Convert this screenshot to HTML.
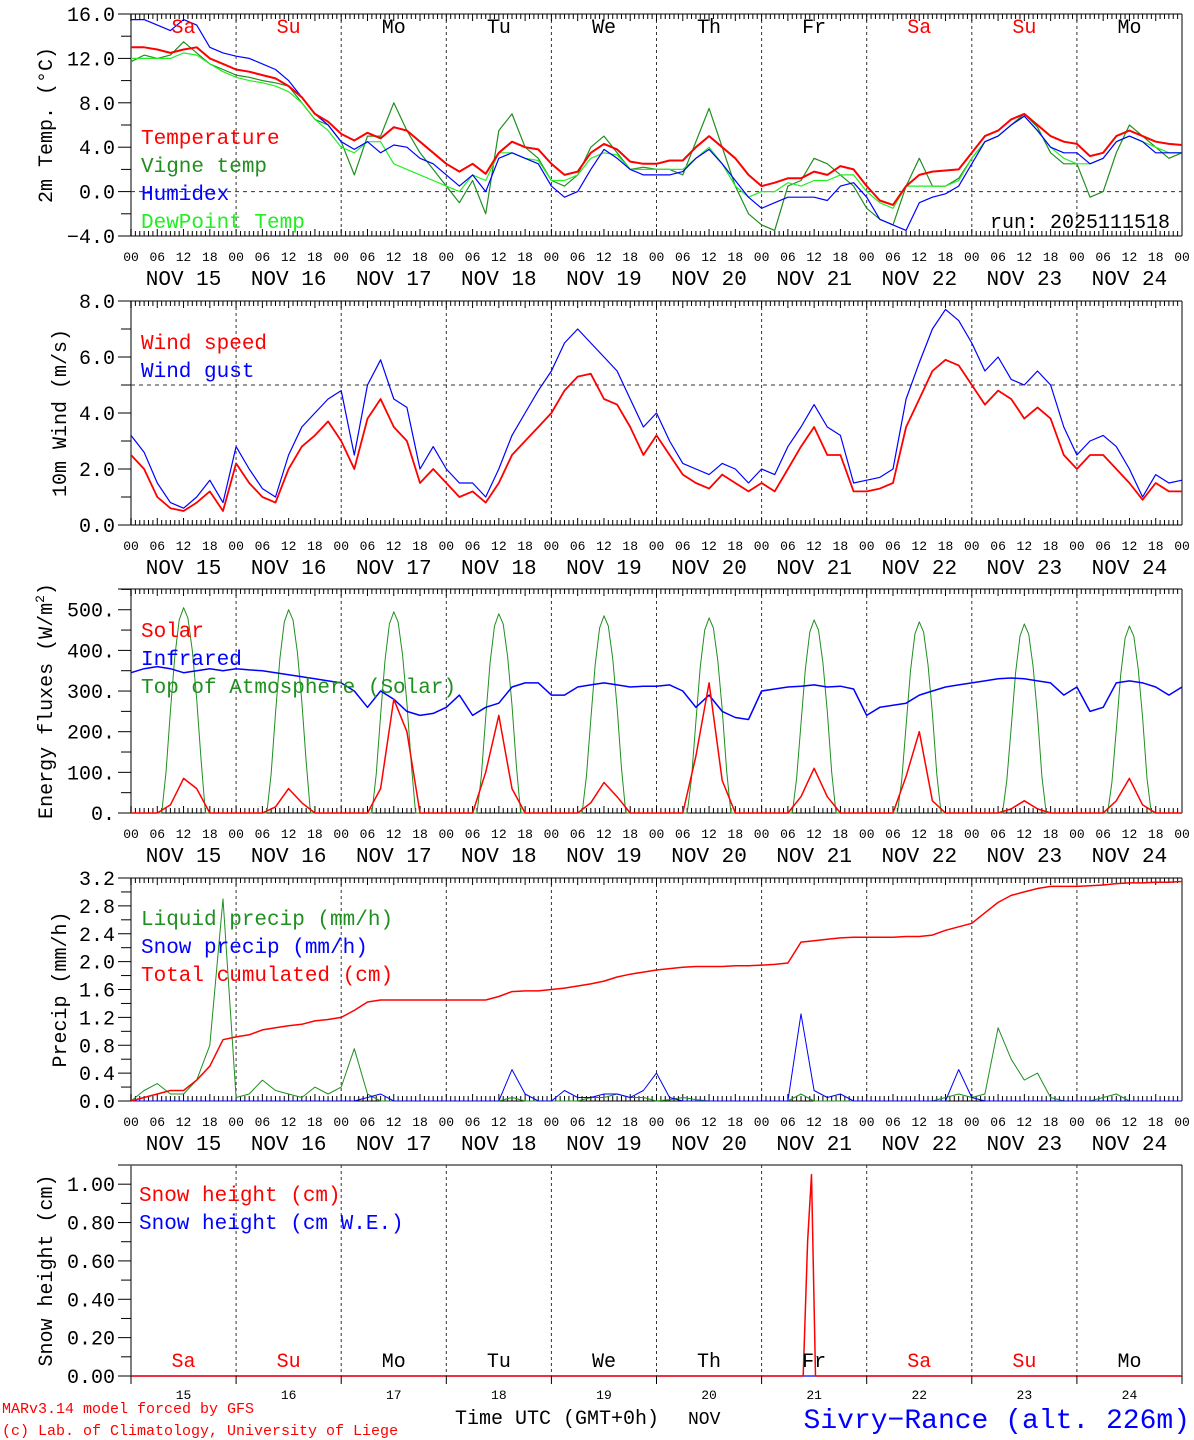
<!DOCTYPE html>
<html><head><meta charset="utf-8">
<style>
html,body{margin:0;padding:0;background:#fff;}
svg{display:block;font-family:"Liberation Mono",monospace;}
</style></head>
<body>
<svg id="chart" width="1194" height="1440" viewBox="0 0 1194 1440" xmlns="http://www.w3.org/2000/svg"></svg>
<script>
// ---------- data (3-hourly from NOV 15 00 UTC) ----------
const dayNames = ["Sa","Su","Mo","Tu","We","Th","Fr","Sa","Su","Mo"];
const dayNums = ["15","16","17","18","19","20","21","22","23","24"];
const hourLabels = ["00","06","12","18"];
const tempTicks = ["-4.0","0.0","4.0","8.0","12.0","16.0"];
const windTicks = ["0.0","2.0","4.0","6.0","8.0"];
const energyTicks = ["0.","100.","200.","300.","400.","500."];
const precipTicks = ["0.0","0.4","0.8","1.2","1.6","2.0","2.4","2.8","3.2"];
const snowTicks = ["0.00","0.20","0.40","0.60","0.80","1.00"];

const temperature = [13.0,13.0,12.8,12.5,12.8,13.0,12.0,11.5, 11.0,10.8,10.5,10.2,9.5,8.5,7.0,6.3, 5.2,4.6,5.3,4.8,5.8,5.5,4.5,3.5, 2.5,1.8,2.5,1.6,3.5,4.5,4.0,3.8, 2.5,1.5,1.8,3.5,4.3,3.8,2.7,2.5, 2.5,2.8,2.8,4.0,5.0,4.0,3.0,1.5, 0.5,0.8,1.2,1.2,1.8,1.5,2.3,2.0, 0.5,-0.8,-1.2,0.5,1.5,1.8,1.9,2.0, 3.5,5.0,5.5,6.5,7.0,6.0,5.0,4.5, 4.3,3.2,3.5,5.0,5.5,5.0,4.5,4.3,4.2];
const vigneTemp = [11.7,12.3,12.0,12.3,13.5,12.5,11.5,11.0, 10.5,10.3,10.0,9.8,9.5,8.0,6.5,6.0, 4.5,1.5,5.0,5.0,8.0,5.5,3.5,2.0, 0.5,-1.0,1.0,-2.0,5.5,7.0,4.0,3.0, 1.0,0.5,1.5,4.0,5.0,3.5,2.0,2.2, 2.0,2.0,1.5,4.5,7.5,4.0,0.5,-2.0, -3.0,-3.5,0.5,1.0,3.0,2.5,1.5,0.5, -1.5,-2.5,-3.0,0.5,3.0,0.5,0.5,1.2, 3.0,4.5,5.0,6.0,7.0,5.8,3.5,2.5, 2.5,-0.5,0.0,3.5,6.0,5.0,4.0,3.0,3.5];
const humidex = [15.5,15.5,15.0,14.5,15.5,15.0,13.0,12.5, 12.2,12.0,11.5,11.0,10.0,8.5,7.0,6.0, 4.5,3.8,4.5,3.5,4.2,4.0,3.0,2.5, 1.5,0.5,1.5,0.0,3.0,3.5,3.0,2.5, 0.5,-0.5,0.0,2.0,3.8,3.0,2.0,1.5, 1.5,1.5,1.8,3.0,3.8,2.5,1.0,-0.5, -1.5,-1.0,-0.5,-0.5,-0.5,-0.8,0.5,0.8, -0.5,-2.5,-3.0,-3.5,-1.0,-0.5,-0.2,0.5, 2.5,4.5,5.0,6.0,6.8,5.5,4.0,3.5, 3.5,2.5,3.0,4.5,5.0,4.5,3.5,3.5,3.5];
const dewPoint = [12.0,12.0,12.0,12.0,12.5,12.3,11.5,10.8, 10.3,10.0,9.8,9.5,9.0,8.0,6.5,5.5, 4.0,3.5,4.5,4.5,2.5,2.0,1.5,1.0, 0.5,0.0,1.5,1.0,3.5,3.5,3.0,2.8, 1.0,1.0,1.5,3.0,3.5,3.3,2.0,2.0, 2.0,2.0,2.0,3.0,4.0,2.5,0.5,-0.5, 0.0,0.0,0.8,0.5,1.0,1.0,1.5,1.5, 0.0,-1.0,-1.5,0.5,0.5,0.5,0.5,1.0, 3.0,4.5,5.0,6.0,6.8,5.5,4.0,3.0, 2.5,2.5,3.0,4.5,5.0,4.5,4.0,3.5,3.5];

const windSpeed = [2.5,2.0,1.0,0.6,0.5,0.8,1.2,0.5, 2.2,1.5,1.0,0.8,2.0,2.8,3.2,3.7, 3.0,2.0,3.8,4.5,3.5,3.0,1.5,2.0, 1.5,1.0,1.2,0.8,1.5,2.5,3.0,3.5, 4.0,4.8,5.3,5.4,4.5,4.3,3.5,2.5, 3.2,2.5,1.8,1.5,1.3,1.8,1.5,1.2, 1.5,1.2,2.0,2.8,3.5,2.5,2.5,1.2, 1.2,1.3,1.5,3.5,4.5,5.5,5.9,5.7, 5.0,4.3,4.8,4.5,3.8,4.2,3.8,2.5, 2.0,2.5,2.5,2.0,1.5,0.9,1.5,1.2,1.2];
const windGust = [3.2,2.6,1.5,0.8,0.6,1.0,1.6,0.8, 2.8,2.0,1.3,1.0,2.5,3.5,4.0,4.5, 4.8,2.5,5.0,5.9,4.5,4.2,2.0,2.8, 2.0,1.5,1.5,1.0,2.0,3.2,4.0,4.8, 5.5,6.5,7.0,6.5,6.0,5.5,4.5,3.5, 4.0,3.0,2.2,2.0,1.8,2.2,2.0,1.5, 2.0,1.8,2.8,3.5,4.3,3.5,3.2,1.5, 1.6,1.7,2.0,4.5,5.8,7.0,7.7,7.3, 6.5,5.5,6.0,5.2,5.0,5.5,5.0,3.5, 2.5,3.0,3.2,2.8,2.0,1.0,1.8,1.5,1.6];

const solar = [0,0,0,20,85,60,0,0, 0,0,0,15,60,25,0,0, 0,0,0,60,280,200,0,0, 0,0,0,100,240,60,0,0, 0,0,0,25,75,40,0,0, 0,0,0,140,320,80,0,0, 0,0,0,40,110,40,0,0, 0,0,0,90,200,30,0,0, 0,0,0,10,30,10,0,0, 0,0,0,30,85,20,0,0,0];
const infrared = [345,355,360,355,345,350,355,350, 355,352,350,345,340,335,330,325, 320,300,260,300,280,250,240,245, 260,290,240,260,270,310,320,320, 290,290,310,315,320,315,310,312, 312,315,300,260,290,250,235,230, 300,305,310,312,315,310,312,305, 240,260,265,270,290,300,310,315, 320,325,330,332,330,325,320,290, 310,250,260,320,325,320,310,290,310];
// top of atmosphere solar: hourly values 07..17 UTC for each day
const toaDaily = [
 [0,100,250,385,475,505,480,400,280,130,0],
 [0,95,245,380,470,500,475,395,275,125,0],
 [0,95,240,375,465,495,470,390,270,120,0],
 [0,90,235,370,460,490,465,385,265,115,0],
 [0,90,230,365,455,485,460,380,260,110,0],
 [0,85,225,360,450,480,455,375,255,105,0],
 [0,85,220,355,445,475,450,370,250,100,0],
 [0,80,215,350,440,470,445,365,245,95,0],
 [0,80,210,345,435,465,440,360,240,90,0],
 [0,75,205,340,430,460,435,355,235,85,0]];

const liquidPrecip = [0,0.15,0.25,0.1,0.1,0.3,0.8,2.9, 0.05,0.1,0.3,0.15,0.1,0.05,0.2,0.1, 0.2,0.75,0.1,0,0,0,0,0, 0,0,0,0,0,0.05,0,0, 0,0,0,0.05,0.05,0.1,0.05,0.05, 0,0.02,0.05,0.02,0,0,0,0, 0,0,0,0.1,0,0,0,0, 0,0,0,0,0,0,0.05,0.1, 0.05,0.1,1.05,0.6,0.3,0.4,0.05,0, 0,0,0.05,0.1,0,0,0,0,0];
const snowPrecip = [0,0,0,0,0,0,0,0, 0,0,0,0,0,0,0,0, 0,0,0.05,0.1,0,0,0,0, 0,0,0,0,0,0.45,0.1,0, 0,0.15,0.05,0.05,0.1,0.1,0.05,0.15, 0.4,0.05,0,0,0,0,0,0, 0,0,0,1.25,0.15,0.05,0.1,0, 0,0,0,0,0,0,0,0.45, 0.05,0,0,0,0,0,0,0, 0,0,0,0,0,0,0,0,0];
const totalCumul = [0,0.05,0.1,0.15,0.15,0.3,0.5,0.88, 0.92,0.95,1.02,1.05,1.08,1.1,1.15,1.17, 1.2,1.3,1.42,1.45,1.45,1.45,1.45,1.45, 1.45,1.45,1.45,1.45,1.5,1.57,1.58,1.58, 1.6,1.62,1.65,1.68,1.72,1.78,1.82,1.85, 1.88,1.9,1.92,1.93,1.93,1.93,1.94,1.94, 1.95,1.96,1.98,2.28,2.3,2.32,2.34,2.35, 2.35,2.35,2.35,2.36,2.36,2.38,2.45,2.5, 2.55,2.7,2.85,2.95,3.0,3.05,3.08,3.08, 3.08,3.09,3.1,3.12,3.13,3.13,3.14,3.14,3.15];

const snowHours = [0,153.5,154.5,155.4,156.3,240];
const snowHeight = [0,0,0.7,1.05,0,0];
const snowWE = [0,0,0,0,0,0];

// ---------- layout ----------
const svg = document.getElementById('chart');
const NS = 'http://www.w3.org/2000/svg';
const X0 = 131, X1 = 1182, HOURS = 240;
function xScale(h){ return X0 + h / HOURS * (X1 - X0); }
function mk(tag, attrs, parent, name, inter){
  const el = document.createElementNS(NS, tag);
  for (const k in attrs) el.setAttribute(k, attrs[k]);
  
  
  (parent || svg).appendChild(el);
  return el;
}
function txt(s, x, y, size, fill, anchor, parent, name, extra){
  const a = Object.assign({x:x, y:y, 'font-size':size, fill:fill, 'text-anchor':anchor||'start'}, extra||{});
  const t = mk('text', a, parent, name, false);
  t.textContent = s;
  return t;
}

// flatten TOA into hours/values
const toaHours = [0];
const toaVals = [0];
toaDaily.forEach((vals, d) => vals.forEach((v, k) => { toaHours.push(d*24 + 7 + k); toaVals.push(v); }));
toaHours.push(240); toaVals.push(0);

function panel(opts){
  const g = mk('g', {}, svg, opts.name, false);
  const yS = v => opts.bottom - (v - opts.min) / (opts.max - opts.min) * (opts.bottom - opts.top);
  mk('line', {x1:118, y1:opts.top, x2:X1, y2:opts.top, stroke:'#000', 'stroke-width':1}, g, 'top-axis-line');
  mk('line', {x1:X0, y1:opts.top, x2:X0, y2:opts.bottom, stroke:'#555', 'stroke-width':1.5}, g, 'left-axis-line');
  mk('line', {x1:X1, y1:opts.top, x2:X1, y2:opts.bottom, stroke:'#000', 'stroke-width':1}, g, 'right-axis-line');
  mk('line', {x1:118, y1:opts.bottom, x2:X1, y2:opts.bottom, stroke:'#000', 'stroke-width':1}, g, 'bottom-axis-line');
  for (let d = 1; d < 10; d++){
    const x = xScale(d*24);
    mk('line', {x1:x, y1:opts.top, x2:x, y2:opts.bottom, stroke:'#333', 'stroke-width':1, 'stroke-dasharray':'3,3'}, g, 'day-separator');
  }
  if (opts.hourTicks){
    for (let h = 0; h <= HOURS; h++){
      const x = xScale(h);
      const len = (h % 6 === 0) ? 7 : 5;
      mk('line', {x1:x, y1:opts.top, x2:x, y2:opts.top+len, stroke:'#000', 'stroke-width':1}, g, 'top-hour-tick');
      mk('line', {x1:x, y1:opts.bottom, x2:x, y2:opts.bottom-len, stroke:'#000', 'stroke-width':1}, g, 'bottom-hour-tick');
    }
    for (let d = 0; d <= 10; d++){
      for (let k = 0; k < 4; k++){
        if (d === 10 && k > 0) break;
        txt(hourLabels[k], xScale(d*24 + k*6), opts.bottom+25, 13, '#000', 'middle', g, 'hour-tick-label');
      }
      if (d < 10) txt('NOV ' + dayNums[d], xScale(d*24+12), opts.bottom+49, 21, '#000', 'middle', g, 'date-label');
    }
  }
  opts.ticks.forEach((lab, i) => {
    const v = opts.tickVals[i];
    const y = yS(v);
    mk('line', {x1:118, y1:y, x2:X0, y2:y, stroke:'#000', 'stroke-width':1}, g, 'y-major-tick');
    txt(lab.replace('-', '\u2212'), 115, y+7, 20, '#000', 'end', g, 'y-tick-label');
  });
  opts.minorVals.forEach(v => {
    const y = yS(v);
    mk('line', {x1:121, y1:y, x2:X0, y2:y, stroke:'#000', 'stroke-width':1}, g, 'y-minor-tick');
  });
  if (opts.refLine !== undefined){
    const y = yS(opts.refLine);
    mk('line', {x1:X0, y1:y, x2:X1, y2:y, stroke:'#333', 'stroke-width':1, 'stroke-dasharray':'4,4'}, g, 'reference-line');
  }
  const t = txt(opts.title, 0, 0, 20, '#000', 'middle', g, 'y-axis-title', {transform:'translate(' + opts.titleX + ',' + ((opts.top+opts.bottom)/2) + ') rotate(-90)'});
  if (opts.titleSup){
    const ts = document.createElementNS(NS, 'tspan');
    
    
    ts.setAttribute('font-size', '13'); ts.setAttribute('dy', '-8'); ts.textContent = '2';
    t.appendChild(ts);
    const ts2 = document.createElementNS(NS, 'tspan');
    
    
    ts2.setAttribute('dy', '8'); ts2.textContent = ')';
    t.appendChild(ts2);
  }
  opts.series.forEach(s => {
    const hrs = s.hours || s.data.map((_, i) => i*3);
    const pts = s.data.map((v, i) => xScale(hrs[i]).toFixed(1) + ',' + yS(v).toFixed(1)).join(' ');
    mk('polyline', {points:pts, fill:'none', stroke:s.color, 'stroke-width':s.w||1.2, 'stroke-linejoin':'round'}, g, s.name);
  });
  opts.legend.forEach((l, i) => {
    txt(l[0], opts.legendX || 141, opts.legendY + i*28, 21, l[1], 'start', g, 'legend-entry');
  });
  return {g, yS};
}

const RED = '#ff0000', DG = '#1f8f1f', BL = '#0000ff', LG = '#22ee22';

const p1 = panel({name:'temperature-panel', top:14, bottom:236, min:-4, max:16, hourTicks:true,
  ticks:tempTicks, tickVals:[-4,0,4,8,12,16], minorVals:[-2,2,6,10,14], refLine:0,
  title:'2m Temp. (\u00B0C)', titleX:52,
  series:[{data:vigneTemp, color:DG, name:'vigne-temp-line'},{data:dewPoint, color:LG, name:'dewpoint-line'},{data:humidex, color:BL, name:'humidex-line'},{data:temperature, color:RED, w:2, name:'temperature-line'}],
  legend:[['Temperature',RED],['Vigne temp',DG],['Humidex',BL],['DewPoint Temp',LG]], legendY:144});
dayNames.forEach((d, i) => txt(d, xScale(i*24+12), 33, 20, (d==='Sa'||d==='Su')?RED:'#000', 'middle', p1.g, 'weekday-label'));
txt('run: 2025111518', 1170, 228, 20, '#000', 'end', p1.g, 'run-label');

panel({name:'wind-panel', top:301, bottom:525, min:0, max:8, hourTicks:true,
  ticks:windTicks, tickVals:[0,2,4,6,8], minorVals:[1,3,5,7], refLine:5,
  title:'10m Wind (m/s)', titleX:66,
  series:[{data:windGust, color:BL, name:'wind-gust-line'},{data:windSpeed, color:RED, w:1.8, name:'wind-speed-line'}],
  legend:[['Wind speed',RED],['Wind gust',BL]], legendY:349});

panel({name:'energy-panel', top:589, bottom:813, min:0, max:551, hourTicks:true,
  ticks:energyTicks, tickVals:[0,100,200,300,400,500], minorVals:[50,150,250,350,450,550],
  title:'Energy fluxes (W/m', titleSup:true, titleX:52,
  series:[{data:toaVals, hours:toaHours, color:DG, w:1, name:'toa-solar-line'},{data:infrared, color:BL, w:1.5, name:'infrared-line'},{data:solar, color:RED, w:1.5, name:'solar-line'}],
  legend:[['Solar',RED],['Infrared',BL],['Top of Atmosphere (Solar)',DG]], legendY:637});

panel({name:'precip-panel', top:878, bottom:1101, min:0, max:3.2, hourTicks:true,
  ticks:precipTicks, tickVals:[0,0.4,0.8,1.2,1.6,2.0,2.4,2.8,3.2], minorVals:[0.2,0.6,1.0,1.4,1.8,2.2,2.6,3.0],
  title:'Precip (mm/h)', titleX:66,
  series:[{data:liquidPrecip, color:DG, w:1, name:'liquid-precip-line'},{data:snowPrecip, color:BL, w:1, name:'snow-precip-line'},{data:totalCumul, color:RED, w:1.5, name:'total-cumulated-line'}],
  legend:[['Liquid precip (mm/h)',DG],['Snow precip (mm/h)',BL],['Total cumulated (cm)',RED]], legendY:925});

const p5 = panel({name:'snow-panel', top:1165, bottom:1376, min:0, max:1.1, hourTicks:false,
  ticks:snowTicks, tickVals:[0,0.2,0.4,0.6,0.8,1.0], minorVals:[0.1,0.3,0.5,0.7,0.9],
  title:'Snow height (cm)', titleX:52,
  series:[{data:snowWE, hours:snowHours, color:BL, w:1.2, name:'snow-we-line'},{data:snowHeight, hours:snowHours, color:RED, w:1.5, name:'snow-height-line'}],
  legend:[['Snow height (cm)',RED],['Snow height (cm W.E.)',BL]], legendY:1201, legendX:139});
dayNames.forEach((d, i) => txt(d, xScale(i*24+12), 1367, 20, (d==='Sa'||d==='Su')?RED:'#000', 'middle', p5.g, 'weekday-label'));
for (let d = 0; d <= 10; d++){
  const x = xScale(d*24);
  mk('line', {x1:x, y1:1376, x2:x, y2:1384, stroke:'#000', 'stroke-width':1}, p5.g, 'day-tick');
}
dayNums.forEach((n, i) => txt(n, xScale(i*24+12), 1399, 13, '#000', 'middle', p5.g, 'day-number-label'));

txt('MARv3.14 model forced by GFS', 2, 1413, 15, RED, 'start', svg, 'model-credit');
txt('(c) Lab. of Climatology, University of Liege', 2, 1435, 15, RED, 'start', svg, 'lab-credit');
txt('Time UTC (GMT+0h)', 455, 1424, 20, '#000', 'start', svg, 'x-axis-title');
txt('NOV', 688, 1424, 18, '#000', 'start', svg, 'month-label');
txt('Sivry\u2212Rance (alt. 226m)', 1190, 1428, 28, BL, 'end', svg, 'station-title');
</script>
</body></html>
